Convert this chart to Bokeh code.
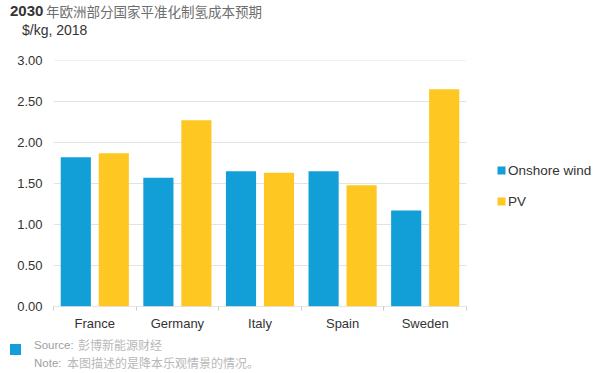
from bokeh.plotting import figure
from bokeh.layouts import column
from bokeh.models import (Range1d, FixedTicker, Legend, LegendItem, ColumnDataSource, Div)
from bokeh.embed import file_html
from bokeh.resources import INLINE

countries = ["France", "Germany", "Italy", "Spain", "Sweden"]
onshore_wind = [1.82, 1.57, 1.65, 1.65, 1.17]
pv = [1.87, 2.27, 1.63, 1.48, 2.65]
y_ticks = [0.0, 0.5, 1.0, 1.5, 2.0, 2.5, 3.0]
series_names = ["Onshore wind", "PV"]
colors = ["#129FD8", "#FEC722"]

title_bold = "2030"
title_rest = "年欧洲部分国家平准化制氢成本预期"
subtitle = "$/kg, 2018"
source_label = "Source:"
source_text = "彭博新能源财经"
note_label = "Note:"
note_text = "本图描述的是降本乐观情景的情况。"

LATIN = "Liberation Sans"
CJK = "Noto Sans CJK SC"
FONT_CSS = "'Liberation Sans', 'Noto Sans CJK SC', sans-serif"

W = 600
TOP_H, FIG_H, FOOT_H = 40, 296, 37
PLOT_LEFT, PLOT_W = 53, 413          # pixel span of the category area
n = len(countries)
x_end = n * (W - PLOT_LEFT) / PLOT_W  # frame extends to the right edge (room for legend)

p = figure(width=W, height=FIG_H, output_backend="svg", toolbar_location=None,
           x_range=Range1d(0, x_end), y_range=Range1d(0, 3.0),
           min_border_left=PLOT_LEFT, min_border_right=0, min_border_top=20,
           min_border_bottom=30)
p.outline_line_color = None
p.background_fill_color = "white"
p.border_fill_color = "white"
p.xgrid.grid_line_color = None
p.ygrid.grid_line_color = None

# horizontal grid lines over the category area only
grid_y = y_ticks[1:]
p.segment(x0=[0] * len(grid_y), x1=[n] * len(grid_y), y0=grid_y, y1=grid_y,
          line_color="#e3e3e3", line_width=1)

centers = [i + 0.5 for i in range(n)]
src = ColumnDataSource(dict(
    xw=[c - 0.23 for c in centers], xp=[c + 0.23 for c in centers],
    wind=onshore_wind, pv=pv))
r1 = p.vbar(x="xw", top="wind", width=0.365, source=src, fill_color=colors[0], line_color=None)
r2 = p.vbar(x="xp", top="pv", width=0.365, source=src, fill_color=colors[1], line_color=None)

# baseline
p.segment(x0=[0], x1=[n], y0=[0], y1=[0], line_color="#cccccc", line_width=1)

# x axis
xa = p.xaxis[0]
xa.ticker = FixedTicker(ticks=centers, minor_ticks=list(range(n + 1)))
xa.major_label_overrides = {c: name for c, name in zip(centers, countries)}
xa.axis_line_color = None
xa.major_tick_line_color = None
xa.major_tick_out = 0
xa.minor_tick_out = 4
xa.minor_tick_in = 0
xa.minor_tick_line_color = "#cccccc"
xa.major_label_text_font = LATIN
xa.major_label_text_font_size = "13px"
xa.major_label_text_color = "#333333"
xa.major_label_standoff = 5

# y axis
ya = p.yaxis[0]
ya.ticker = FixedTicker(ticks=y_ticks)
ya.major_label_overrides = {t: f"{t:.2f}" for t in y_ticks}
ya.axis_line_color = None
ya.major_tick_line_color = None
ya.minor_tick_line_color = None
ya.major_tick_out = 0
ya.major_label_text_font = LATIN
ya.major_label_text_font_size = "13px"
ya.major_label_text_color = "#333333"
ya.major_label_standoff = 11

# legend (inside the extended frame, right of the bars)
legend = Legend(items=[LegendItem(label=series_names[0], renderers=[r1]),
                       LegendItem(label=series_names[1], renderers=[r2])],
                location=(443, 95), orientation="vertical",
                glyph_width=10, glyph_height=10, label_standoff=2,
                label_height=20, spacing=11, padding=0, margin=0,
                border_line_color=None, background_fill_alpha=0,
                label_text_font=LATIN, label_text_font_size="13.5px",
                label_text_color="#333333")
p.add_layout(legend, "center")

title_html = f"""
<div style="position:relative;width:{W}px;height:{TOP_H}px;font-family:{FONT_CSS};">
  <span style="position:absolute;left:10px;top:2px;line-height:18px;font-size:15px;font-weight:bold;color:#333333;font-family:'{LATIN}';">{title_bold}</span>
  <span style="position:absolute;left:46px;top:2px;line-height:18px;font-size:13.5px;color:#6e6e6e;font-family:'{CJK}';">{title_rest}</span>
  <span style="position:absolute;left:22px;top:21px;line-height:18px;font-size:14px;color:#333333;font-family:'{LATIN}';">{subtitle}</span>
</div>"""

foot_html = f"""
<div style="position:relative;width:{W}px;height:{FOOT_H}px;font-family:{FONT_CSS};">
  <span style="position:absolute;left:10px;top:8px;width:11px;height:11px;background:{colors[0]};"></span>
  <span style="position:absolute;left:34px;top:1px;line-height:16px;font-size:11.5px;color:#a0a0a0;font-family:'{LATIN}';">{source_label}</span>
  <span style="position:absolute;left:78px;top:1px;line-height:16px;font-size:12px;color:#b8b8b8;font-family:'{CJK}';">{source_text}</span>
  <span style="position:absolute;left:34px;top:19px;line-height:16px;font-size:11.5px;color:#a0a0a0;font-family:'{LATIN}';">{note_label}</span>
  <span style="position:absolute;left:67px;top:19px;line-height:16px;font-size:12px;color:#b8b8b8;font-family:'{CJK}';">{note_text}</span>
</div>"""

top_div = Div(text=title_html, width=W, height=TOP_H, margin=0)
foot_div = Div(text=foot_html, width=W, height=FOOT_H, margin=0)

layout = column(top_div, p, foot_div, spacing=0)
open("out.html", "w").write(file_html(layout, INLINE))
